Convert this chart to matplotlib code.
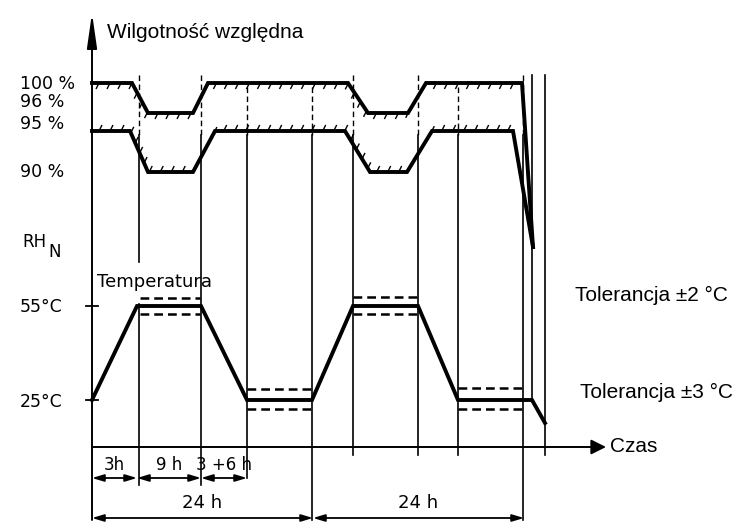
import numpy as np
import matplotlib.pyplot as plt
from matplotlib.collections import LineCollection

# Schematic of the damp-heat cycle, drawn in drawing units (y grows downward)
# event times along the time axis
t_full = [139, 201, 353, 418, 523, 532, 545]
t_band = [247, 312, 458]

# relative humidity tolerance band: upper edge (100 % / 96 %) and lower edge (95 % / 90 %)
rh_upper_x = [92, 132, 148, 193, 208, 348, 368, 408, 426, 522, 533]
rh_upper_y = [83, 83, 113, 113, 83, 83, 113, 113, 83, 83, 247]
rh_lower_x = [92, 130, 148, 193, 215, 345, 370, 407, 432, 513, 533]
rh_lower_y = [131, 131, 172, 172, 131, 131, 172, 172, 131, 131, 247]

# temperature profile (25 °C <-> 55 °C)
temp_x = [92, 137, 201, 247, 312, 353, 418, 458, 532, 545]
temp_y = [400, 306, 306, 400, 400, 306, 306, 400, 400, 423]

# tolerance dashes: (start, end, upper, lower)
hot_tol = [(140, 200, 298, 314), (353, 418, 297, 314)]
cold_tol = [(247, 312, 389, 409), (458, 524, 388, 409)]

# level labels on the left
level_labels = ["100 %", "96 %", "95 %", "90 %", "55°C", "25°C"]
level_pos = [84, 102, 124, 172, 307, 402]

# dimension rows
dim_row1 = [(92, 137, "3h"), (137, 201, "9 h"), (201, 247, "3 +6 h")]
dim_row2 = [(92, 313, "24 h"), (313, 524, "24 h")]

hand = "DejaVu Sans"
typed = "Liberation Sans"

fig = plt.figure(figsize=(7.37, 5.22), dpi=100)
ax = fig.add_axes([0, 0, 1, 1])
ax.set_xlim(0, 737)
ax.set_ylim(522, 0)
ax.axis("off")

# axes with arrows
ax.annotate("", xy=(92, 13), xytext=(92, 520),
            arrowprops=dict(arrowstyle="-|>,head_length=1.4,head_width=0.2",
                            lw=1.4, color="k", mutation_scale=15, shrinkA=0, shrinkB=0))
ax.annotate("", xy=(606, 447), xytext=(92, 447),
            arrowprops=dict(arrowstyle="-|>,head_length=0.6,head_width=0.3",
                            lw=1.4, color="k", mutation_scale=15, shrinkA=0, shrinkB=0))
ax.text(107, 33, "Wilgotność względna", family=typed, fontsize=15, va="center")
ax.text(610, 447, "Czas", family=typed, fontsize=15, va="center")

# vertical event lines: dashed inside the humidity band, solid below
bottoms = {139: 485, 201: 485, 247: 478, 312: 520, 353: 455, 418: 455,
           458: 455, 523: 520, 532: 400, 545: 455}
for t in t_full + t_band:
    top = 75 if t in t_full else 87
    if t in (532, 545):
        ax.plot([t, t], [top, bottoms[t]], color="k", lw=1.2)
        continue
    ax.plot([t, t], [top, 135], color="k", lw=1.0, dashes=(4, 2.5))
    if t == 139:
        ax.plot([t, t], [135, 262], color="k", lw=1.2)
        ax.plot([t, t], [304, bottoms[t]], color="k", lw=1.2)
    else:
        ax.plot([t, t], [135, bottoms[t]], color="k", lw=1.2)

# humidity band edges
ax.plot(rh_upper_x, rh_upper_y, color="k", lw=2.8, solid_joinstyle="miter")
ax.plot(rh_lower_x, rh_lower_y, color="k", lw=2.8, solid_joinstyle="miter")


def hatch(xs, ys, dx, dy, step=11):
    xs, ys = np.asarray(xs[:-1], float), np.asarray(ys[:-1], float)
    seg = np.hypot(np.diff(xs), np.diff(ys))
    s = np.concatenate([[0], np.cumsum(seg)])
    d = np.arange(7, s[-1] - 3, step)
    px, py = np.interp(d, s, xs), np.interp(d, s, ys)
    return [[(x, y), (x + dx, y + dy)] for x, y in zip(px, py)]


ax.add_collection(LineCollection(hatch(rh_upper_x, rh_upper_y, -3, 6), colors="k", lw=1.0))
ax.add_collection(LineCollection(hatch(rh_lower_x, rh_lower_y, 3, -6), colors="k", lw=1.0))

# temperature
ax.plot(temp_x, temp_y, color="k", lw=2.8, solid_joinstyle="miter")
for x0, x1, yu, yl in hot_tol + cold_tol:
    ax.plot([x0, x1], [yu, yu], color="k", lw=1.8, dashes=(3.5, 2))
    ax.plot([x0, x1], [yl, yl], color="k", lw=1.8, dashes=(3.5, 2))
for y in [306, 400]:
    ax.plot([86, 98], [y, y], color="k", lw=1.3)
ax.text(97, 282, "Temperatura", family=hand, fontsize=13, va="center")

# left labels
for lab, y in zip(level_labels, level_pos):
    ax.text(20, y, lab, family=hand, fontsize=12.5, va="center")
ax.text(22, 242, "RH", family=hand, fontsize=12, va="center")
ax.text(48, 252, "N", family=hand, fontsize=12, va="center")

ax.text(575, 295, "Tolerancja ±2 °C", family=typed, fontsize=15, va="center")
ax.text(580, 392, "Tolerancja ±3 °C", family=typed, fontsize=15, va="center")

# dimension lines
for row, y, ty in [(dim_row1, 478, 465), (dim_row2, 518, 503)]:
    for x0, x1, lab in row:
        ax.annotate("", xy=(x1, y), xytext=(x0, y),
                    arrowprops=dict(arrowstyle="<|-|>,head_length=0.5,head_width=0.15",
                                    lw=1.3, color="k", mutation_scale=14,
                                    shrinkA=0, shrinkB=0))
        ax.text((x0 + x1) / 2, ty, lab, family=hand, fontsize=13 if y > 500 else 12,
                ha="center", va="center")

fig.savefig("out.png", dpi=100)
